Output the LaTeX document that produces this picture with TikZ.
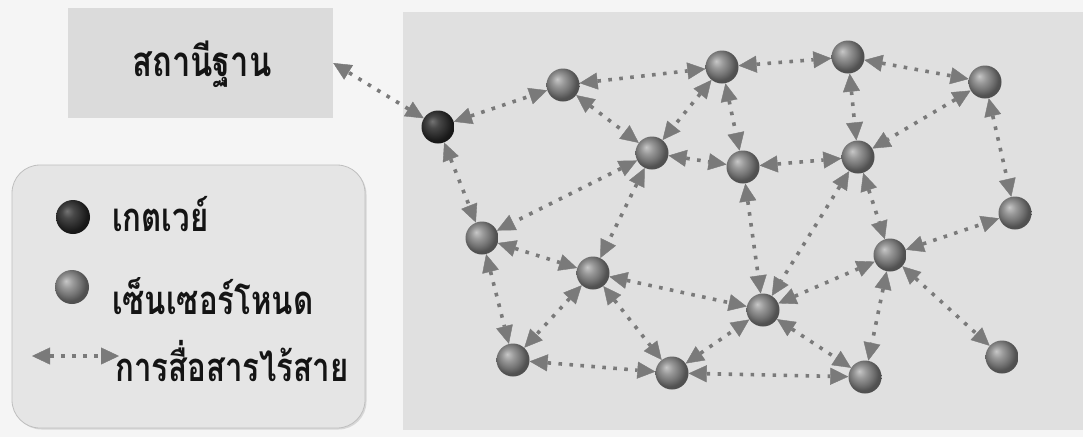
\documentclass[tikz,border=0pt]{standalone}
\usepackage{fontspec}
\newfontfamily\thaifont[Script=Thai,FakeStretch=0.78]{Loma}
\usetikzlibrary{arrows.meta,shadows}
\pgfdeclareradialshading{sensorball}{\pgfpoint{-9bp}{9bp}}{color(0bp)=(black!22); color(9bp)=(black!40); color(18bp)=(black!55); color(25bp)=(black!68); color(50bp)=(black!75)}
\pgfdeclareradialshading{gateball}{\pgfpoint{-9bp}{9bp}}{color(0bp)=(black!55); color(9bp)=(black!72); color(18bp)=(black!82); color(25bp)=(black!90); color(50bp)=(black)}
\begin{document}
\begin{tikzpicture}[x=1pt,y=-1pt,
  sensor/.style={circle,minimum size=33pt,inner sep=0pt,shading=sensorball},
  gateway/.style={circle,minimum size=33pt,inner sep=0pt,shading=gateball},
  link/.style={draw=black!52,line width=3.6pt,dash pattern=on 3.6pt off 7.4pt,
    {Triangle[length=18pt,width=17pt,line width=0.4pt]}-{Triangle[length=18pt,width=17pt,line width=0.4pt]}},
  thtext/.style={font=\thaifont\bfseries\fontsize{40}{40}\selectfont,inner sep=0pt,text=black!92}]
\useasboundingbox (0,0) rectangle (1083,437);
\fill[gray!8] (0,0) rectangle (1083,437);
% network area
\fill[gray!24] (403,12) rectangle (1083,430);
% station box
\node[fill=gray!28,minimum width=265pt,minimum height=110pt,inner sep=0pt] (station) at (200.5,63) {};
\node[thtext,font=\thaifont\bfseries\fontsize{42}{42}\selectfont,anchor=base] (stext) at (202,76) {สถานีฐาน};
% legend box
\fill[gray!20,draw=gray!50,line width=0.8pt,rounded corners=28pt,
  drop shadow={opacity=0.25,shadow xshift=1.5pt,shadow yshift=-1.5pt}] (12,165) rectangle (365,428);
\node[gateway,minimum size=34pt] (lg) at (73,217) {};
\node[sensor,minimum size=34pt] (ls) at (72,287) {};
\node[thtext,anchor=base west] (t1) at (112,231) {เกตเวย์};
\node[thtext,anchor=base west] (t2) at (112,314) {เซ็นเซอร์โหนด};
\node[thtext,anchor=base west] (t3) at (115,381) {การสื่อสารไร้สาย};
\coordinate (la) at (32,356);
\coordinate (lb) at (119,356);
\draw[link] (la) -- (lb);
% nodes
\node[gateway] (G) at (438,127) {};
\node[sensor] (N1) at (563,85) {};
\node[sensor] (N2) at (722,67) {};
\node[sensor] (N3) at (652,153) {};
\node[sensor] (N4) at (743,167) {};
\node[sensor] (N5) at (848,57) {};
\node[sensor] (N6) at (985,82) {};
\node[sensor] (N7) at (858,157) {};
\node[sensor] (N8) at (1015,213) {};
\node[sensor] (N9) at (482,238) {};
\node[sensor] (N10) at (593,273) {};
\node[sensor] (N11) at (513,360) {};
\node[sensor] (N12) at (672,373) {};
\node[sensor] (N13) at (763,310) {};
\node[sensor] (N14) at (890,255) {};
\node[sensor] (N15) at (865,377) {};
\node[sensor] (N16) at (1002,357) {};
% links
\draw[link] (G) -- (station.east);
\foreach \a/\b in {G/N1,G/N9,N1/N2,N1/N3,N2/N3,N2/N4,N2/N5,N3/N4,N3/N9,N3/N10,
  N4/N7,N4/N13,N5/N6,N5/N7,N6/N7,N6/N8,N7/N13,N7/N14,N9/N10,N9/N11,N10/N11,
  N10/N12,N10/N13,N11/N12,N12/N13,N12/N15,N13/N14,N13/N15,N14/N15,N14/N8,N14/N16}
  \draw[link] (\a) -- (\b);
\end{tikzpicture}
\end{document}
